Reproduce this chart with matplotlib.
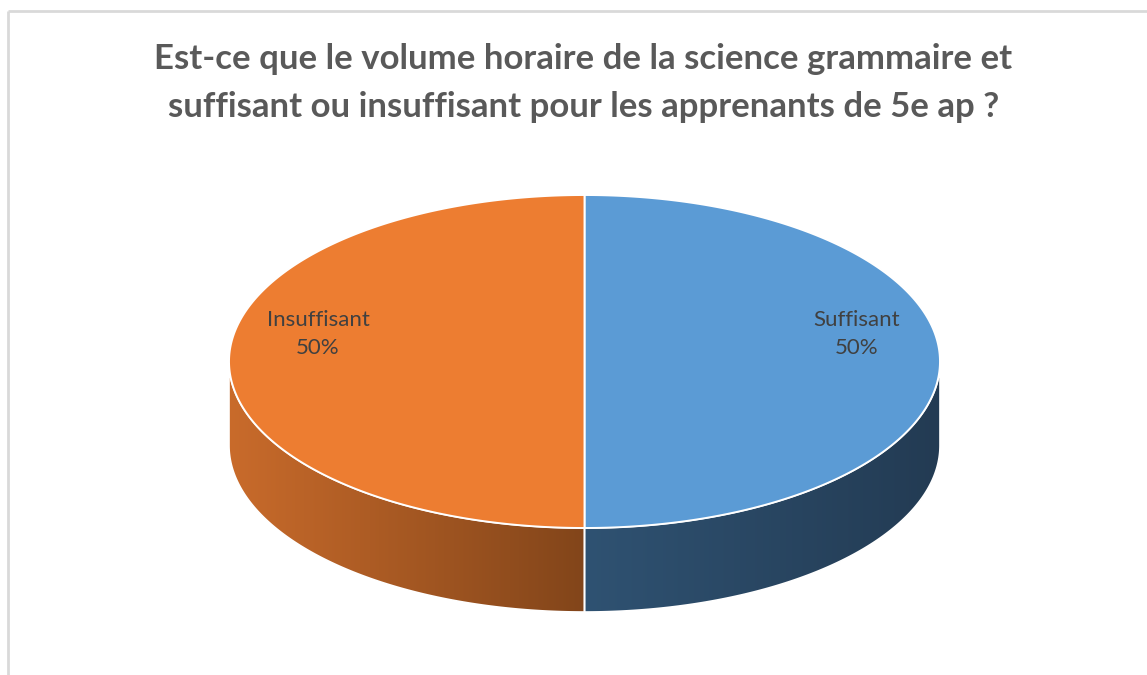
import numpy as np
import matplotlib
matplotlib.use("Agg")
import matplotlib.pyplot as plt
from matplotlib.patches import Polygon
from matplotlib.colors import LinearSegmentedColormap

# ── Data ─────────────────────────────────────────────────────────────────────

labels = ["Suffisant", "Insuffisant"]
values = [50, 50]
top_colors = ["#5B9BD5", "#ED7D31"]
side_colors = [("#2F5272", "#233B53"), ("#C96B2B", "#82451A")]  # (left, right)
title = ("Est-ce que le volume horaire de la science grammaire et\n"
         "suffisant ou insuffisant pour les apprenants de 5e ap ?")

# ── Geometry (pixel space) ───────────────────────────────────────────────────

W, H = 1147, 675
cx, cy = 584.5, 361.5
a, b = 355.5, 166.5
depth = 84

fig = plt.figure(figsize=(W / 100, H / 100), dpi=100)
ax = fig.add_axes([0, 0, 1, 1])
ax.set_xlim(0, W)
ax.set_ylim(H, 0)
ax.axis("off")

# frame (top and left only)
ax.plot([8, 8], [H, 10.5], color="#D9D9D9", lw=2, solid_capstyle="butt")
ax.plot([8, W], [10.5, 10.5], color="#D9D9D9", lw=2, solid_capstyle="butt")

ax.text(583.5, 83, title, ha="center", va="center", fontsize=25,
        fontweight="bold", color="#595959", family="Lato", linespacing=1.6)

# slice angles: start at 12 o'clock, go clockwise (screen y down => angle grows)
fracs = np.array(values) / sum(values)
starts = -np.pi / 2 + np.concatenate([[0], np.cumsum(fracs)[:-1]]) * 2 * np.pi
ends = starts + fracs * 2 * np.pi

def pt(t, dy=0.0):
    return cx + a * np.cos(t), cy + b * np.sin(t) + dy

# sides (front half only: t in [0, pi])
for i in range(len(values)):
    t0, t1 = max(starts[i], 0), min(ends[i], np.pi)
    if t1 <= t0:
        continue
    ts = np.linspace(t0, t1, 200)
    xs, ys = pt(ts)
    poly_xy = np.vstack([np.column_stack([xs, ys]),
                         np.column_stack([xs[::-1], ys[::-1] + depth])])
    poly = Polygon(poly_xy, closed=True, facecolor="none", edgecolor="none")
    ax.add_patch(poly)
    cmap = LinearSegmentedColormap.from_list("s%d" % i, side_colors[i])
    grad = np.linspace(0, 1, 256).reshape(1, -1)
    x0, x1 = xs.min(), xs.max()
    im = ax.imshow(grad, cmap=cmap, aspect="auto",
                   extent=[x0, x1, ys.max() + depth, ys.min()], zorder=1)
    im.set_clip_path(poly)
    ax.add_patch(Polygon(poly_xy, closed=True, facecolor="none",
                         edgecolor="white", lw=1.2, zorder=2))

# top face
for i in range(len(values)):
    ts = np.linspace(starts[i], ends[i], 300)
    xs, ys = pt(ts)
    poly_xy = np.vstack([[cx, cy], np.column_stack([xs, ys])])
    ax.add_patch(Polygon(poly_xy, closed=True, facecolor=top_colors[i],
                         edgecolor="white", lw=1.4, zorder=3))

# data labels
label_pos = [(857, 334), (318, 334)]
for (lx, ly), lab, v in zip(label_pos, labels, fracs):
    ax.text(lx, ly, f"{lab}\n{v:.0%}", ha="center", va="center", fontsize=16,
            color="#404040", family="Lato", linespacing=1.5, zorder=4)

fig.savefig("out.png", dpi=100)
